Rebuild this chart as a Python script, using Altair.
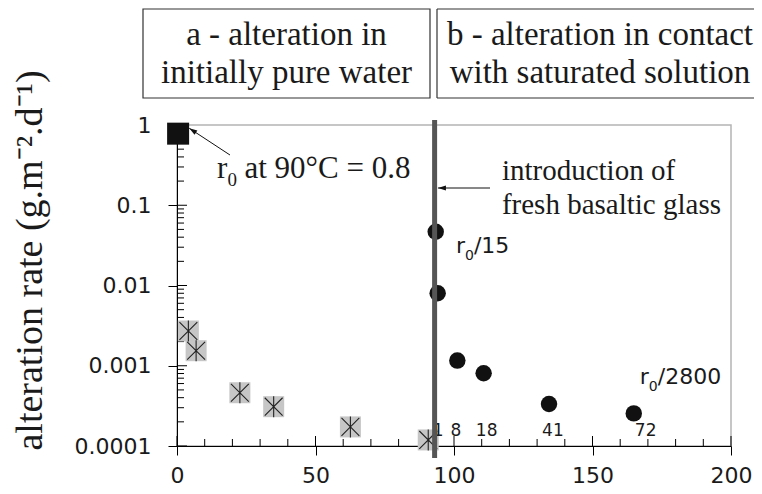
import altair as alt
import pandas as pd

# ---------------- data ----------------
# reference rate r0 at 90 C
r0_x = [0.4]
r0_y = [0.78]

# (a) alteration in initially pure water
pure_x = [4.1, 6.9, 22.7, 34.9, 62.6, 90.7]
pure_y = [0.00271, 0.00154, 0.000461, 0.000309, 0.000173, 0.000119]

# (b) alteration in contact with saturated solution
sat_x = [93.4, 94.1, 101.2, 110.7, 134.3, 164.9]
sat_y = [0.0468, 0.0080, 0.00116, 0.000805, 0.000334, 0.000255]

# day labels written above the x axis
day_labels = ["1", "8", "18", "41", "72"]
day_label_x = [94.3, 100.7, 111.8, 135.7, 169.2]
day_label_y = [0.000133] * 5

intro_x = [93.0]

x_major = [0, 50, 100, 150, 200]
x_minor = [10, 20, 30, 40, 60, 70, 80, 90, 110, 120, 130, 140, 160, 170, 180, 190]
y_major = [1, 0.1, 0.01, 0.001, 0.0001]
y_minor = [m * 10.0 ** e for e in range(-4, 0) for m in range(2, 10)]

header_a = ["a - alteration in", "initially pure water"]
header_b = ["b - alteration in contact", "with saturated solution"]
intro_text = ["introduction of", "fresh basaltic glass"]
y_title = "alteration rate (g.m\u207b\u00b2.d\u207b\u00b9)"

# annotation anchors (data coordinates)
r0_note = {"x": 14.44, "y": 0.2186}
r15_note = {"x": 100.7, "y": 0.0254}
r2800_note = {"x": 167.1, "y": 0.000593}
intro_note = {"x": 117.3, "y": 0.2064}
arrow_r0 = {"x": 19.13, "y": 0.4228, "x2": 4.44, "y2": 0.9096}
arrow_intro = {"x": 113.0, "y": 0.164, "x2": 94.2, "y2": 0.164}

# ---------------- styling ----------------
W, H = 554, 321
SERIF = "Liberation Serif"
SANS = "DejaVu Sans"
INK = "#1a1a1a"
STAR = "M-0.85,-0.85L0.85,0.85M-0.85,0.85L0.85,-0.85M0,-1L0,1"
HEAD = "M0,0L-0.32,1L0.32,1Z"

xs = alt.Scale(domain=[0, 200], nice=False, zero=False)
ys = alt.Scale(type="log", domain=[0.0001, 1], nice=False)

x_main_axis = alt.Axis(
    orient="bottom", values=x_major, tickSize=9, tickColor="black",
    domainColor="black", labelFont=SANS, labelFontSize=22, labelColor=INK,
    labelPadding=10, labelFlush=False, labelOverlap=False, grid=False, title=None,
)
y_main_axis = alt.Axis(
    orient="left", values=y_major, format="~g", tickSize=9, tickColor="black",
    domainColor="black", labelFont=SANS, labelFontSize=22, labelColor=INK,
    labelPadding=17, labelOverlap=False, grid=False,
    title=y_title, titleFont=SERIF, titleFontSize=38, titleFontWeight="normal",
    titleColor=INK, titleAngle=270, titleAlign="left", titleBaseline="alphabetic",
    titleX=-135.5, titleY=325,
)


def enc(xf="x", yf="y", xaxis=None, yaxis=None):
    return dict(
        x=alt.X(f"{xf}:Q", scale=xs, axis=xaxis),
        y=alt.Y(f"{yf}:Q", scale=ys, axis=yaxis),
    )


one = pd.DataFrame({"d": [0]})
pure_df = pd.DataFrame({"x": pure_x, "y": pure_y})
sat_df = pd.DataFrame({"x": sat_x, "y": sat_y})
r0_df = pd.DataFrame({"x": r0_x, "y": r0_y})
day_df = pd.DataFrame({"x": day_label_x, "y": day_label_y, "t": day_labels})

# inward ticks (major ones cross the axis)
def xticks(vals, length):
    return alt.Chart(pd.DataFrame({"x": vals})).mark_rule(color="black", strokeWidth=1).encode(
        x=alt.X("x:Q", scale=xs, axis=None), y=alt.value(H), y2=alt.value(H - length))


def yticks(vals, length):
    return alt.Chart(pd.DataFrame({"y": vals})).mark_rule(color="black", strokeWidth=1).encode(
        y=alt.Y("y:Q", scale=ys, axis=None), x=alt.value(0), x2=alt.value(length))


ticks = xticks(x_minor, 7) + xticks(x_major, 10) + yticks(y_minor, 7) + yticks(y_major, 10)

# header boxes
rule_style = dict(color="#333", strokeWidth=1.2)
box_a = alt.Chart(one).mark_rect(fill="white", stroke="#333", strokeWidth=1.2).encode(
    x=alt.value(-34), x2=alt.value(253), y=alt.value(-116), y2=alt.value(-27))
box_b = (
    alt.Chart(one).mark_rule(**rule_style).encode(
        x=alt.value(260), x2=alt.value(577), y=alt.value(-116))
    + alt.Chart(one).mark_rule(**rule_style).encode(
        x=alt.value(260), x2=alt.value(577), y=alt.value(-27))
    + alt.Chart(one).mark_rule(**rule_style).encode(
        x=alt.value(260), y=alt.value(-116), y2=alt.value(-27))
)
head_a = alt.Chart(one).mark_text(font=SERIF, fontSize=33, lineHeight=38, align="center",
                                  baseline="alphabetic", color=INK).encode(
    x=alt.value(109.5), y=alt.value(-80), text=alt.value(header_a))
head_b = alt.Chart(one).mark_text(font=SERIF, fontSize=33, lineHeight=38, align="center",
                                  baseline="alphabetic", color=INK).encode(
    x=alt.value(423), y=alt.value(-80), text=alt.value(header_b))

# points
pure_sq = alt.Chart(pure_df).mark_square(size=441, color="#c6c6c6", opacity=1).encode(
    **enc(xaxis=x_main_axis, yaxis=y_main_axis))
pure_star = alt.Chart(pure_df).mark_point(shape=STAR, size=441, filled=False, stroke="#222",
                                          strokeWidth=1.1, opacity=1).encode(**enc())
r0_sq = alt.Chart(r0_df).mark_square(size=484, color="#111", opacity=1).encode(**enc())
sat_pts = alt.Chart(sat_df).mark_circle(size=270, color="#111", opacity=1).encode(**enc())

day_txt = alt.Chart(day_df).mark_text(font=SANS, fontSize=17, align="center",
                                      baseline="alphabetic", color=INK).encode(
    text="t:N", **enc())

# vertical line: introduction of fresh glass
vline = alt.Chart(pd.DataFrame({"x": intro_x})).mark_rule(color="#555", strokeWidth=5).encode(
    x=alt.X("x:Q", scale=xs, axis=None), y=alt.value(-5), y2=alt.value(333))


def arrow(a, angle):
    df = pd.DataFrame([a])
    line = alt.Chart(df).mark_rule(color="#111", strokeWidth=1).encode(
        x=alt.X("x:Q", scale=xs, axis=None), y=alt.Y("y:Q", scale=ys, axis=None),
        x2="x2:Q", y2="y2:Q")
    head = alt.Chart(df).mark_point(shape=HEAD, size=256, filled=True, color="#111",
                                    opacity=1, angle=angle, strokeWidth=0).encode(
        **enc("x2", "y2"))
    return line + head


def r0_label(anchor, rest, font, size, subsize, subdx, subdy, restdx):
    df = pd.DataFrame([anchor])
    base = alt.Chart(df)
    r = base.mark_text(font=font, fontSize=size, align="left", baseline="alphabetic",
                       color=INK).encode(text=alt.value("r"), **enc())
    s = base.mark_text(font=font, fontSize=subsize, align="left", baseline="alphabetic",
                       color=INK, dx=subdx, dy=subdy).encode(text=alt.value("0"), **enc())
    t = base.mark_text(font=font, fontSize=size, align="left", baseline="alphabetic",
                       color=INK, dx=restdx).encode(text=alt.value(rest), **enc())
    return r + s + t


lab_r0 = r0_label(r0_note, "at 90\u00b0C = 0.8", SERIF, 31, 19, 10.5, 8, 27.5)
lab_15 = r0_label(r15_note, "/15", SANS, 22, 14, 9, 7, 18)
lab_2800 = r0_label(r2800_note, "/2800", SANS, 22, 14, 9, 7, 18)

intro_lab = alt.Chart(pd.DataFrame([intro_note])).mark_text(
    font=SERIF, fontSize=29, lineHeight=34, align="left", baseline="alphabetic", color=INK
).encode(text=alt.value(intro_text), **enc())

chart = alt.layer(
    box_a, box_b, head_a, head_b, ticks,
    pure_sq, pure_star, r0_sq, sat_pts, day_txt, vline,
    arrow(arrow_r0, 303.3), arrow(arrow_intro, 270),
    lab_r0, lab_15, lab_2800, intro_lab,
).resolve_axis(x="independent", y="independent").properties(
    width=W, height=H,
    padding={"left": 169, "top": 117, "right": 23, "bottom": 40},
    autosize=alt.AutoSizeParams(type="none"),
    background="white",
).configure_view(stroke="#b4b4b4", strokeWidth=1.5)

chart.save("out.html", embed_options={"renderer": "svg", "actions": False})
